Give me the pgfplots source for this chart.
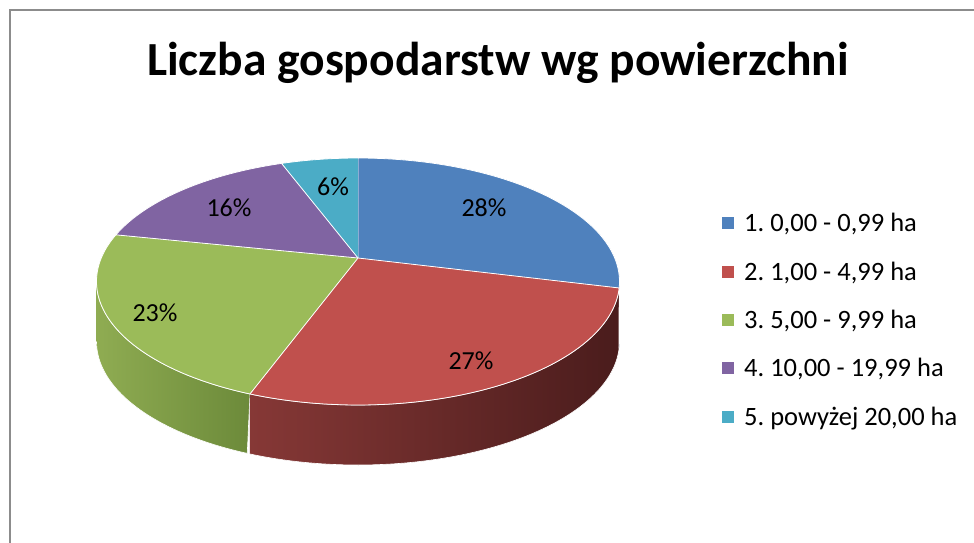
\documentclass[border=0pt]{standalone}
\usepackage{pgfplots}
\pgfplotsset{compat=1.18}
\usepackage{pgfplotstable}
\usepackage{fontspec}
\setmainfont{Carlito}
\frenchspacing
\definecolor{c1}{HTML}{4F81BD}
\definecolor{c2}{HTML}{C0504D}
\definecolor{c3}{HTML}{9BBB59}
\definecolor{c4}{HTML}{8064A2}
\definecolor{c5}{HTML}{4BACC6}
\definecolor{s2a}{HTML}{863836}
\definecolor{s2b}{HTML}{4A1C1C}
\definecolor{s3a}{HTML}{8FAC52}
\definecolor{s3b}{HTML}{6C8A3A}
\definecolor{s1}{HTML}{2F4F78}
% percentage labels (value, label position)
\pgfplotstableread{
x y label
484 208 28\%
471 361 27\%
155 313 23\%
229 208 16\%
333 187 6\%
}\labels
% geometry of the tilted pie (pixel units)
\def\cx{358}\def\cy{281.5}\def\rx{261.5}\def\ry{123.5}\def\ax{358}\def\ay{258}\def\dep{60}
\newcommand{\sector}[3]{%
\addplot[#3, draw=white, line width=0.8pt, samples at={-1,0,0.01,...,1}, variable=\t]
 ({(\t<0) ? \ax : \cx+\rx*cos(#1+(#2-#1)*\t)},
  {(\t<0) ? \ay : \cy-\ry*sin(#1+(#2-#1)*\t)});}
\newcommand{\side}[3]{%
\addplot[#3, draw=white, line width=0.6pt, forget plot, domain=0:2, samples=201, variable=\t]
 ({(\t<=1) ? \cx+\rx*cos(#1+(#2-#1)*\t) : \cx+\rx*cos(#2-(#2-#1)*(\t-1))},
  {(\t<=1) ? \cy-\ry*sin(#1+(#2-#1)*\t) : \cy-\ry*sin(#2-(#2-#1)*(\t-1))+\dep});}
\begin{document}
\begin{tikzpicture}
\begin{axis}[name=ax,
  width=974pt, height=543pt, scale only axis,
  xmin=0, xmax=974, ymin=0, ymax=543, y dir=reverse,
  hide axis, clip=false,
  legend image code/.code={\fill[#1, draw=none] (0pt,-6pt) rectangle (12pt,6pt);},
  legend style={draw=none, fill=none, at={(axis cs:722,211)}, anchor=north west,
    font=\fontsize{26.5}{26.5}\selectfont, row sep=24.5pt,
    legend cell align=left, inner sep=0pt,
    /tikz/every odd column/.append style={column sep=8pt}},
]
\addplot[forget plot, color=black!45, line width=1.2pt] coordinates {(10,543) (10,10) (974,10)};
\side{180}{245.6}{left color=s3a, right color=s3b}
\side{245.6}{357}{left color=s2a, right color=s2b}
\side{357}{360}{fill=s1}
\sector{90}{-3}{fill=c1}
\addlegendentry{1. 0,00 - 0,99 ha}
\sector{-3}{-114.4}{fill=c2}
\addlegendentry{2. 1,00 - 4,99 ha}
\sector{-114.4}{-202.2}{fill=c3}
\addlegendentry{3. 5,00 - 9,99 ha}
\sector{-202.2}{-253}{fill=c4}
\addlegendentry{4. 10,00 - 19,99 ha}
\sector{-253}{-270}{fill=c5}
\addlegendentry{5. powyżej 20,00 ha}
\addplot[forget plot, only marks, mark=none, nodes near coords,
  point meta=explicit symbolic,
  nodes near coords style={anchor=center, font=\fontsize{26}{26}\selectfont, text=black}]
  table[meta=label] {\labels};
\node[font=\bfseries\fontsize{47.5}{47.5}\selectfont] at (axis cs:498,63) {Liczba gospodarstw wg powierzchni};
\end{axis}
\pgfresetboundingbox
\path[use as bounding box] (ax.south west) rectangle (ax.north east);
\end{tikzpicture}
\end{document}
